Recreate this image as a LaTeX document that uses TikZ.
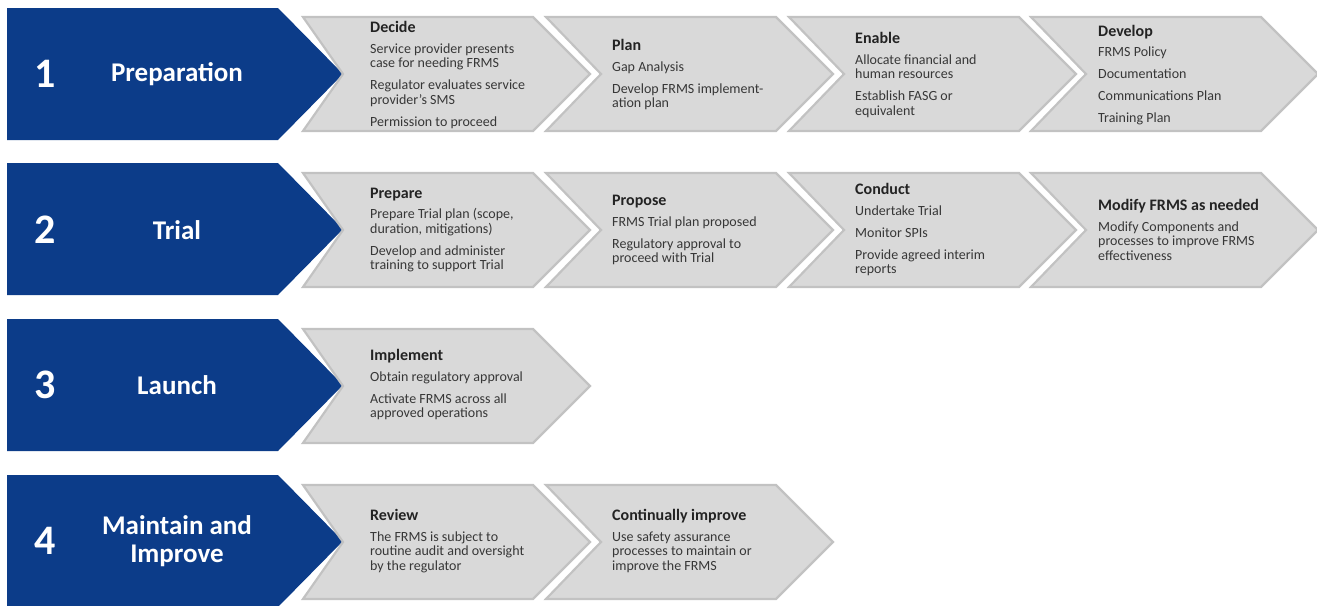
\documentclass[tikz,border=0pt]{standalone}
\usepackage{fontspec}
\setmainfont{Carlito}
\definecolor{fblue}{RGB}{12,60,137}
\definecolor{gfill}{RGB}{217,217,217}
\definecolor{gline}{RGB}{194,194,194}
\definecolor{tgray}{RGB}{55,55,55}
\definecolor{ttitle}{RGB}{35,35,35}
\tikzset{
  bluearrow/.style={fill=fblue},
  grayarrow/.style={fill=gfill, draw=gline, line width=2.2pt, line join=miter},
  body/.style={anchor=west, align=left, inner sep=0pt, text=tgray,
    font=\fontsize{14}{14.5}\selectfont},
  num/.style={text=white, font=\fontsize{42}{44}\selectfont\bfseries, inner sep=0pt},
  phase/.style={text=white, font=\fontsize{27}{28}\selectfont\bfseries, align=center, inner sep=0pt},
}
\newcommand{\ttl}[1]{{\fontsize{16}{16}\selectfont\bfseries\color{ttitle}#1}}
\newcommand{\bluearr}[1]{\fill[bluearrow] (7,#1) -- ++(271,0) -- ++(65,66) -- ++(-65,66) -- ++(-271,0) -- cycle;}
% #1 left x, #2 top y, #3 notch depth
\newcommand{\grayarr}[3]{\draw[grayarrow] (#1,#2) -- ++(230,0) -- ++(57,57) -- ++(-57,57) -- ++(-230,0) -- ++(#3,-57) -- cycle;}
\begin{document}
\begin{tikzpicture}[x=1pt,y=-1pt]
\useasboundingbox (0,0) rectangle (1317,605);
% ---------- Row 1
\bluearr{8}
\grayarr{303}{17}{40}\grayarr{546}{17}{55}\grayarr{789}{17}{55}\grayarr{1031}{17}{55}
\node[num] (n1) at (45,74) {1};
\node[phase] (p1) at (177,74) {Preparation};
\node[body] (r1a) at (370,75) {\ttl{Decide}\\[6pt]Service provider presents\\case for needing FRMS\\[7.5pt]Regulator evaluates service\\provider’s SMS\\[7.5pt]Permission to proceed};
\node[body] (r1b) at (612,75) {\ttl{Plan}\\[6pt]Gap Analysis\\[7.5pt]Develop FRMS implement-\\ation plan};
\node[body] (r1c) at (855,75) {\ttl{Enable}\\[6pt]Allocate financial and\\human resources\\[7.5pt]Establish FASG or\\equivalent};
\node[body] (r1d) at (1098,75) {\ttl{Develop}\\[6pt]FRMS Policy\\[7.5pt]Documentation\\[7.5pt]Communications Plan\\[7.5pt]Training Plan};
% ---------- Row 2
\bluearr{163}
\grayarr{303}{173}{40}\grayarr{546}{173}{55}\grayarr{789}{173}{55}\grayarr{1031}{173}{55}
\node[num] (n2) at (45,230) {2};
\node[phase] (p2) at (177,230) {Trial};
\node[body] (r2a) at (370,230) {\ttl{Prepare}\\[6pt]Prepare Trial plan (scope,\\duration, mitigations)\\[7.5pt]Develop and administer\\training to support Trial};
\node[body] (r2b) at (612,230) {\ttl{Propose}\\[6pt]FRMS Trial plan proposed\\[7.5pt]Regulatory approval to\\proceed with Trial};
\node[body] (r2c) at (855,230) {\ttl{Conduct}\\[6pt]Undertake Trial\\[7.5pt]Monitor SPIs\\[7.5pt]Provide agreed interim\\reports};
\node[body] (r2d) at (1098,230) {\ttl{Modify FRMS as needed}\\[6pt]Modify Components and\\processes to improve FRMS\\effectiveness};
% ---------- Row 3
\bluearr{319}
\grayarr{303}{329}{40}
\node[num] (n3) at (45,385) {3};
\node[phase] (p3) at (177,385) {Launch};
\node[body] (r3a) at (370,385) {\ttl{Implement}\\[6pt]Obtain regulatory approval\\[7.5pt]Activate FRMS across all\\approved operations};
% ---------- Row 4
\bluearr{475}
\grayarr{303}{485}{40}\grayarr{546}{485}{55}
\node[num] (n4) at (45,541) {4};
\node[phase] (p4) at (177,541) {Maintain and\\Improve};
\node[body] (r4a) at (370,541) {\ttl{Review}\\[6pt]The FRMS is subject to\\routine audit and oversight\\by the regulator};
\node[body] (r4b) at (612,541) {\ttl{Continually improve}\\[6pt]Use safety assurance\\processes to maintain or\\improve the FRMS};
\end{tikzpicture}
\end{document}
